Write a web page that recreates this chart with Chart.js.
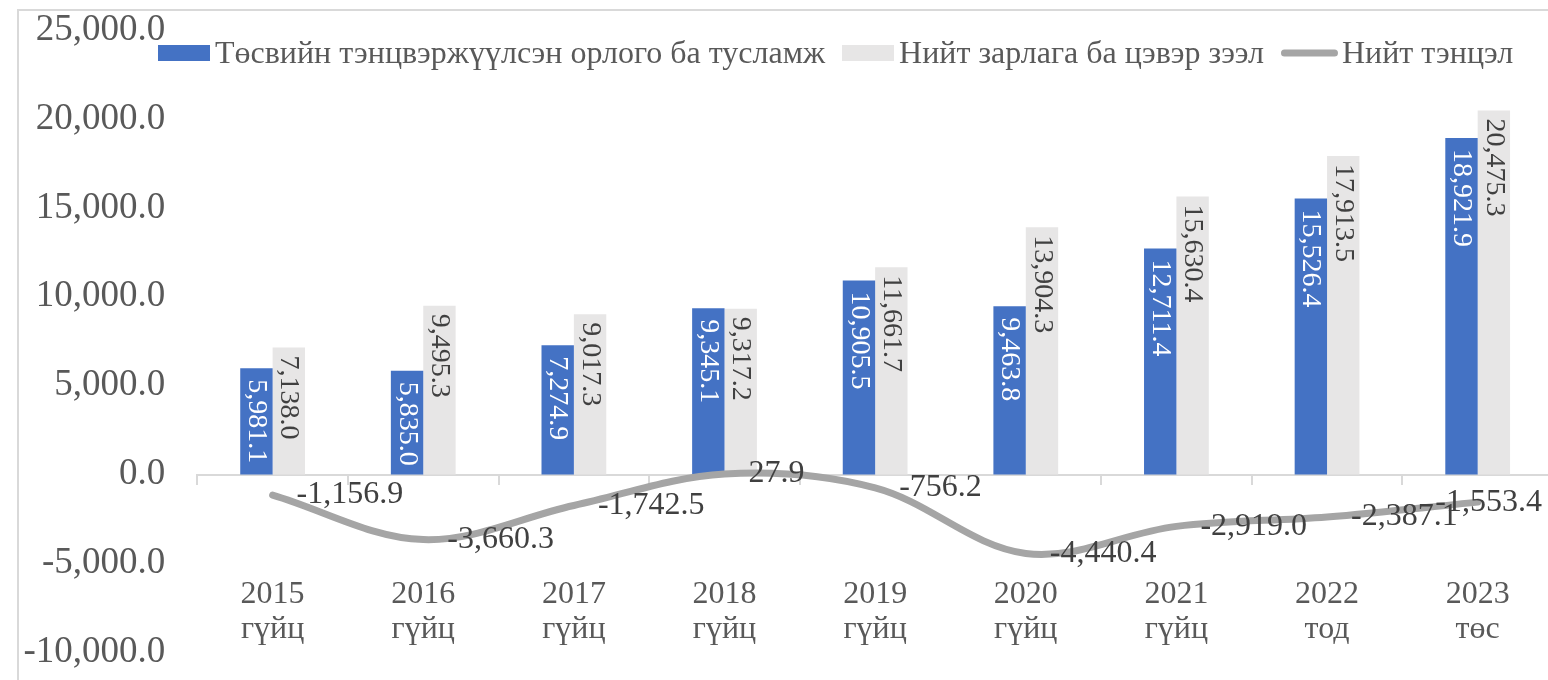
<!DOCTYPE html>
<html><head><meta charset="utf-8">
<script src="https://cdn.jsdelivr.net/npm/chart.js@4"></script>
<style>html,body{margin:0;padding:0;overflow:hidden;background:#fff}#wrap{width:1553px;height:680px;position:relative}</style>
</head><body><div id="wrap"><canvas id="c"></canvas></div>
<script>
const categoryYears = ['2015','2016','2017','2018','2019','2020','2021','2022','2023'];
const categoryStatus = ['гүйц','гүйц','гүйц','гүйц','гүйц','гүйц','гүйц','тод','төс'];
const revenueValues = [5981.1, 5835.0, 7274.9, 9345.1, 10905.5, 9463.8, 12711.4, 15526.4, 18921.9];
const expenditureValues = [7138.0, 9495.3, 9017.3, 9317.2, 11661.7, 13904.3, 15630.4, 17913.5, 20475.3];
const balanceValues = [-1156.9, -3660.3, -1742.5, 27.9, -756.2, -4440.4, -2919.0, -2387.1, -1553.4];
const seriesNames = ['Төсвийн тэнцвэржүүлсэн орлого ба тусламж', 'Нийт зарлага ба цэвэр зээл', 'Нийт тэнцэл'];
const yTicks = [-10000, -5000, 0, 5000, 10000, 15000, 20000, 25000];

const FONT = "'Liberation Serif', 'Times New Roman', serif";
const COLORS = ['#4472c4', '#e7e6e6', '#a5a5a5'];
const fmt = v => Number(v).toLocaleString('en-US', {minimumFractionDigits: 1, maximumFractionDigits: 1});

Chart.defaults.font.family = FONT;

const decor = {
  id: 'decor',
  beforeDraw(chart) {
    const ctx = chart.ctx;
    ctx.save();
    ctx.strokeStyle = '#d9d9d9';
    ctx.lineWidth = 2;
    ctx.strokeRect(18, 10, chart.width + 100, chart.height + 100);
    ctx.restore();
  },
  afterDatasetsDraw(chart) {
    const ctx = chart.ctx;
    ctx.save();
    // bar labels (rotated, inside end)
    [0, 1].forEach(di => {
      const meta = chart.getDatasetMeta(di);
      const vals = chart.data.datasets[di].data;
      ctx.font = '28px ' + FONT;
      ctx.fillStyle = di === 0 ? '#ffffff' : '#404040';
      ctx.textAlign = 'left';
      ctx.textBaseline = 'middle';
      const off = di === 0 ? 11 : 8;
      meta.data.forEach((el, i) => {
        ctx.save();
        ctx.translate(el.x, el.y + off);
        ctx.rotate(Math.PI / 2);
        ctx.fillText(fmt(vals[i]), 0, 0);
        ctx.restore();
      });
    });
    // line labels (right)
    const lm = chart.getDatasetMeta(2);
    const lv = chart.data.datasets[2].data;
    ctx.font = '32px ' + FONT;
    ctx.fillStyle = '#404040';
    ctx.textAlign = 'left';
    ctx.textBaseline = 'middle';
    lm.data.forEach((el, i) => {
      const t = fmt(lv[i]);
      const w = ctx.measureText(t).width;
      let x = el.x + 24;
      if (x + w > chart.width - 11) x = chart.width - 11 - w;
      ctx.fillText(t, x, el.y);
    });
    ctx.restore();
  },
  afterDraw(chart) {
    const ctx = chart.ctx;
    ctx.save();
    // category labels (low position)
    const xs = chart.scales.x, ys = chart.scales.y;
    const zero = ys.getPixelForValue(0);
    ctx.font = '32px ' + FONT;
    ctx.fillStyle = '#595959';
    ctx.textAlign = 'center';
    ctx.textBaseline = 'alphabetic';
    categoryYears.forEach((yr, i) => {
      const px = xs.getPixelForValue(i);
      ctx.fillText(yr, px, zero + 128.5);
      ctx.fillText(categoryStatus[i], px, zero + 163.5);
    });
    // legend
    ctx.textAlign = 'left';
    let x = 158;
    const types = ['box', 'box', 'line'];
    seriesNames.forEach((name, i) => {
      let tx;
      if (types[i] === 'box') {
        ctx.fillStyle = COLORS[i];
        ctx.fillRect(x, 45, 52, 16);
        tx = x + 57;
      } else {
        ctx.strokeStyle = COLORS[i];
        ctx.lineWidth = 7;
        ctx.lineCap = 'round';
        ctx.beginPath();
        ctx.moveTo(x + 3.5, 53);
        ctx.lineTo(x + 53.5, 53);
        ctx.stroke();
        tx = x + 61;
      }
      ctx.fillStyle = '#595959';
      ctx.fillText(name, tx, 63);
      x = tx + ctx.measureText(name).width + 17;
    });
    ctx.restore();
  }
};

new Chart(document.getElementById('c'), {
  type: 'bar',
  data: {
    labels: categoryYears.map((y, i) => [y, categoryStatus[i]]),
    datasets: [
      {type: 'bar', label: seriesNames[0], data: revenueValues, backgroundColor: COLORS[0], order: 1, categoryPercentage: 0.43, barPercentage: 1},
      {type: 'bar', label: seriesNames[1], data: expenditureValues, backgroundColor: COLORS[1], order: 1, categoryPercentage: 0.43, barPercentage: 1},
      {type: 'line', label: seriesNames[2], data: balanceValues, borderColor: COLORS[2], backgroundColor: COLORS[2], borderWidth: 7, tension: 0.35, pointRadius: 0, pointHoverRadius: 0, borderCapStyle: 'round', borderJoinStyle: 'round', fill: false, order: 0}
    ]
  },
  options: {
    responsive: true,
    maintainAspectRatio: false,
    animation: false,
    events: [],
    layout: {padding: {top: 30, bottom: 27.7, left: 0, right: 0}},
    plugins: {legend: {display: false}, tooltip: {enabled: false}},
    scales: {
      x: {
        position: {y: 0},
        offset: true,
        grid: {offset: true, drawOnChartArea: false, drawTicks: true, tickLength: 9, color: '#d9d9d9', lineWidth: 2},
        border: {display: true, color: '#d9d9d9', width: 2},
        ticks: {display: false}
      },
      y: {
        min: yTicks[0],
        max: yTicks[yTicks.length - 1],
        afterBuildTicks: s => { s.ticks = yTicks.map(v => ({value: v})); },
        ticks: {color: '#595959', font: {size: 37}, padding: 32, callback: v => fmt(v)},
        grid: {display: false, drawTicks: false},
        border: {display: false},
        afterFit: s => { s.width = 197.3; s.paddingTop = 0; s.paddingBottom = 0; }
      }
    }
  },
  plugins: [decor]
});
</script>
</body></html>
